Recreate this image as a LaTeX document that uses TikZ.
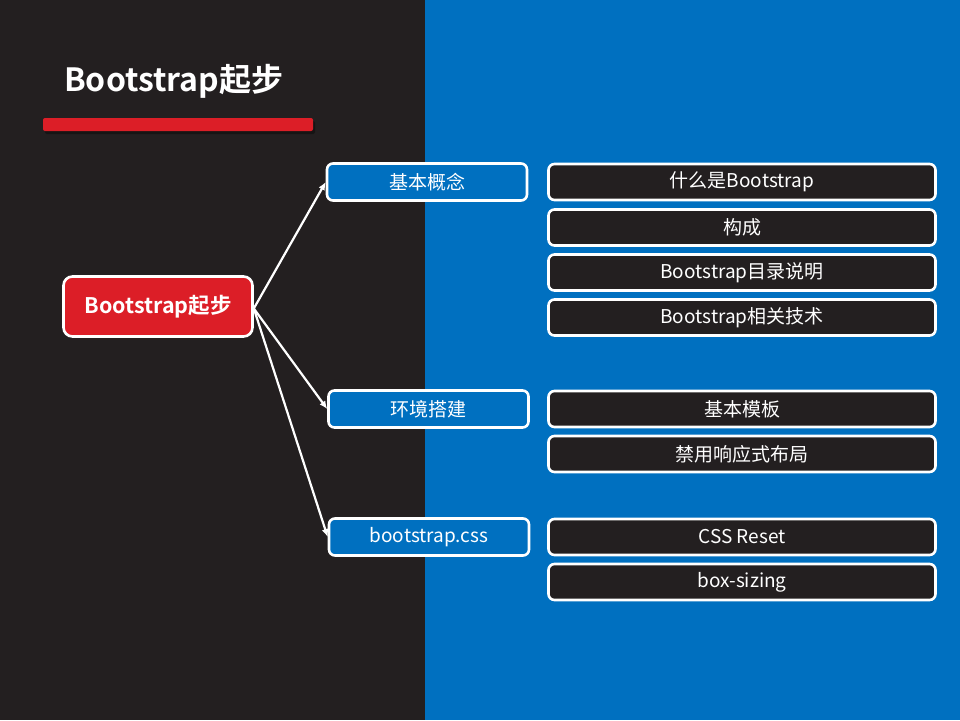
\documentclass[tikz,border=0pt]{standalone}
\usepackage{fontspec}
\setmainfont{Noto Sans CJK SC}[BoldFont={Noto Sans CJK SC Bold}]
\usetikzlibrary{arrows.meta}
\definecolor{darkbg}{HTML}{231F20}
\definecolor{bluebg}{HTML}{0070C0}
\definecolor{redc}{HTML}{DC1E27}
\tikzset{
  box/.style={draw=white, line width=2.6pt, rounded corners=6pt, text=white,
    font=\fontsize{19}{21}\selectfont, inner sep=0pt, align=center},
  lvlone/.style={box, fill=bluebg, minimum width=200pt, minimum height=37pt},
  leaf/.style={box, fill=darkbg, minimum width=387pt, minimum height=36pt},
  rootbox/.style={box, fill=redc, minimum width=189pt, minimum height=60pt,
    rounded corners=9pt, font=\bfseries\fontsize{21.5}{24}\selectfont},
  link/.style={draw=white, line width=2.2pt, -{Latex[length=8pt,width=7pt]}}
}
\begin{document}
\begin{tikzpicture}[x=1pt,y=-1pt]
\useasboundingbox (0,0) rectangle (960,720);
\fill[darkbg] (0,0) rectangle (425,720);
\fill[bluebg] (425,0) rectangle (960,720);
% title
\node[anchor=west, text=white, font=\bfseries\fontsize{32}{36}\selectfont, inner sep=0pt] (title) at (64,81) {Bootstrap起步};
\fill[black, opacity=0.35, rounded corners=2pt] (45,121) rectangle (315,134);
\fill[redc, rounded corners=2pt] (43,118) rectangle (313,131);
% root
\node[rootbox] (root) at (158,306.5) {Bootstrap起步};
% level one
\node[lvlone] (a) at (427,182) {基本概念};
\node[lvlone] (b) at (428.5,409) {环境搭建};
\node[lvlone] (c) at (429,537) {bootstrap.css};
% leaves
\node[leaf] (a1) at (742,182) {什么是Bootstrap};
\node[leaf] (a2) at (742,227.5) {构成};
\node[leaf] (a3) at (742,272.5) {Bootstrap目录说明};
\node[leaf] (a4) at (742,317.5) {Bootstrap相关技术};
\node[leaf] (b1) at (742,409) {基本模板};
\node[leaf] (b2) at (742,454) {禁用响应式布局};
\node[leaf] (c1) at (742,537) {CSS Reset};
\node[leaf] (c2) at (742,582) {box-sizing};
% links
\draw[link] ([yshift=-2pt]root.east) -- (a.west);
\draw[link] ([yshift=-2pt]root.east) -- (b.west);
\draw[link] ([yshift=-2pt]root.east) -- (c.west);
\end{tikzpicture}
\end{document}
